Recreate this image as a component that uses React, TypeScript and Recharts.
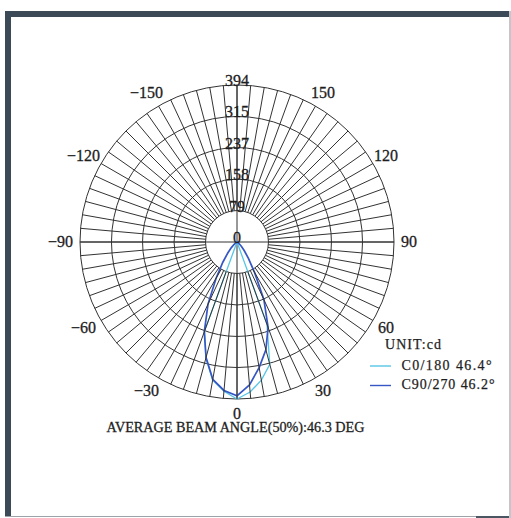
import {
  Legend,
  PolarAngleAxis,
  PolarGrid,
  PolarRadiusAxis,
  Radar,
  RadarChart,
} from "recharts";

// angle of each measurement, 0 at the bottom, counter-clockwise on screen
const ANGLES = [
  0, 5, 10, 15, 20, 25, 30, 35, 40, 45, 50, 55, 60, 65, 70, 75, 80, 85,
  90, 95, 100, 105, 110, 115, 120, 125, 130, 135, 140, 145, 150, 155, 160, 165,
  170, 175, 180,
  -175, -170, -165, -160, -155, -150, -145, -140, -135, -130, -125, -120, -115,
  -110, -105, -100, -95, -90, -85, -80, -75, -70, -65, -60, -55, -50, -45, -40,
  -35, -30, -25, -20, -15, -10, -5,
];

// candela, C0/180 plane (same row layout as ANGLES)
const C0_180 = [
  394, 378, 352, 318, 220, 0, 0, 0, 0, 0, 0, 0, 0, 0, 0, 0, 0, 0,
  0, 0, 0, 0, 0, 0, 0, 0, 0, 0, 0, 0, 0, 0, 0, 0,
  0, 0, 0,
  0, 0, 0, 0, 0, 0, 0, 0, 0, 0, 0, 0, 0,
  0, 0, 0, 0, 0, 0, 0, 0, 0, 0, 0, 0, 0, 0, 0,
  0, 0, 0, 238, 302, 352, 376,
];

// candela, C90/270 plane (same row layout as ANGLES)
const C90_270 = [
  386, 360, 320, 280, 228, 160, 88, 50, 28, 16, 8, 4, 2, 1, 0, 0, 0, 0,
  0, 0, 0, 0, 0, 0, 0, 0, 0, 0, 0, 0, 0, 0, 0, 0,
  0, 0, 0,
  0, 0, 0, 0, 0, 0, 0, 0, 0, 0, 0, 0, 0,
  0, 0, 0, 0, 0, 0, 0, 0, 0, 1, 2, 5, 10, 20, 36,
  62, 105, 172, 240, 300, 350, 374,
];

const RADIUS_TICKS = [0, 79, 158, 237, 315, 394];
const LABELLED_ANGLES = [0, 30, 60, 90, 120, 150, -150, -120, -90, -60, -30];
const CROSS_ANGLES = [-90, 0, 90, 180];

const SERIES = [
  { key: "c0", name: "C0/180 46.4°", color: "#55c6e6", width: 1.3 },
  { key: "c90", name: "C90/270 46.2°", color: "#3556c4", width: 1.7 },
];

const CX = 237;
const CY = 242;
const OUTER_R = 157;
const SPOKE_LEN = OUTER_R * (1 - RADIUS_TICKS[1] / RADIUS_TICKS[RADIUS_TICKS.length - 1]);
const FONT = '"Liberation Serif", "Times New Roman", serif';
const INK = "#1e1e1e";
const GRID = "#333";

const data = ANGLES.map((a, i) => ({ angle: a, c0: C0_180[i], c90: C90_270[i] }));

function AngleTick(props: any) {
  const v = props.payload.value as number;
  if (!LABELLED_ANGLES.includes(v)) return <g />;
  const rad = (-props.payload.coordinate * Math.PI) / 180;
  const cx = props.cx ?? CX;
  const cy = props.cy ?? CY;
  const x = cx + Math.cos(rad) * 172 - (v < 0 ? 4.5 : 0);
  const y = cy + Math.sin(rad) * 172 + 5;
  return (
    <text x={x} y={y} textAnchor="middle" fontSize={16} fontFamily={FONT} fill={INK} stroke={INK} strokeWidth={0.3}>
      {v < 0 ? `−${-v}` : v}
    </text>
  );
}

function RadiusTick(props: any) {
  return (
    <text
      x={props.x}
      y={props.y + 1}
      textAnchor="middle"
      fontSize={16}
      fontFamily={FONT}
      fill={INK}
      stroke={INK}
      strokeWidth={0.3}
    >
      {props.payload.value}
    </text>
  );
}

function LegendBox(props: any) {
  const items = props.payload ?? [];
  return (
    <svg width={146} height={60} style={{ display: "block" }}>
      <text x={20} y={14} fontSize={14} fontFamily={FONT} fill={INK} stroke={INK} strokeWidth={0.25} textLength={56} lengthAdjust="spacing">
        UNIT:cd
      </text>
      {items.map((it: any, i: number) => {
        const s = SERIES.find((x) => x.key === it.dataKey) ?? SERIES[i];
        const y = 31 + i * 19.5;
        return (
          <g key={s.key}>
            <line x1={5} x2={26} y1={y} y2={y} stroke={s.color} strokeWidth={1.4} />
            <text x={36.5} y={y + 3.8} fontSize={14} fontFamily={FONT} fill={INK} stroke={INK} strokeWidth={0.25} textLength={i === 0 ? 90 : 93} lengthAdjust="spacing">
              {s.name}
            </text>
          </g>
        );
      })}
    </svg>
  );
}

export default function App() {
  return (
    <div style={{ position: "fixed", left: 0, top: 0, width: 511, height: 518, background: "#fff", overflow: "hidden" }}>
      <div style={{ position: "absolute", left: 5, top: 11, width: 506, height: 6, background: "#3b4a56" }} />
      <div style={{ position: "absolute", left: 5, top: 11, width: 6, height: 506, background: "#3b4a56" }} />
      <div style={{ position: "absolute", left: 5, top: 515.5, width: 506, height: 1.5, background: "#9da3a8" }} />
      <div style={{ position: "absolute", left: 476, top: 515.5, width: 35, height: 2, background: "#4a5763" }} />
      <div style={{ position: "absolute", left: 509, top: 11, width: 1.5, height: 507, background: "#c3c7cb" }} />

      <div style={{ position: "absolute", left: 0, top: 0 }}>
        <RadarChart
          width={511}
          height={518}
          data={data}
          cx={CX}
          cy={CY}
          outerRadius={OUTER_R}
          startAngle={-270}
          endAngle={90}
          margin={{ top: 0, right: 0, bottom: 0, left: 0 }}
        >
          <PolarGrid gridType="circle" polarAngles={CROSS_ANGLES} stroke={GRID} strokeWidth={1} />
          <PolarAngleAxis
            dataKey="angle"
            type="number"
            domain={[-180, 180]}
            ticks={ANGLES}
            axisLine={false}
            orientation="inner"
            tickSize={SPOKE_LEN}
            tickLine={{ stroke: GRID, strokeWidth: 1 }}
            tick={AngleTick}
          />
          <PolarRadiusAxis
            angle={90}
            domain={[0, 394]}
            ticks={RADIUS_TICKS}
            axisLine={false}
            tick={RadiusTick}
          />
          {SERIES.map((s) => (
            <Radar
              key={s.key}
              dataKey={s.key}
              name={s.name}
              stroke={s.color}
              strokeWidth={s.width}
              fill="none"
              dot={false}
              isAnimationActive={false}
            />
          ))}
          <Legend
            content={LegendBox}
            wrapperStyle={{ left: 365, top: 335, width: 146, height: 60, bottom: "auto" }}
          />
        </RadarChart>
      </div>

      <svg width={511} height={518} style={{ position: "absolute", left: 0, top: 0, pointerEvents: "none" }}>
        <text
          x={235.5}
          y={431.5}
          textAnchor="middle"
          fontSize={15}
          fontFamily={FONT}
          fill={INK}
          stroke={INK}
          strokeWidth={0.3}
          textLength={258}
          lengthAdjust="spacingAndGlyphs"
        >
          AVERAGE BEAM ANGLE(50%):46.3 DEG
        </text>
      </svg>
    </div>
  );
}
